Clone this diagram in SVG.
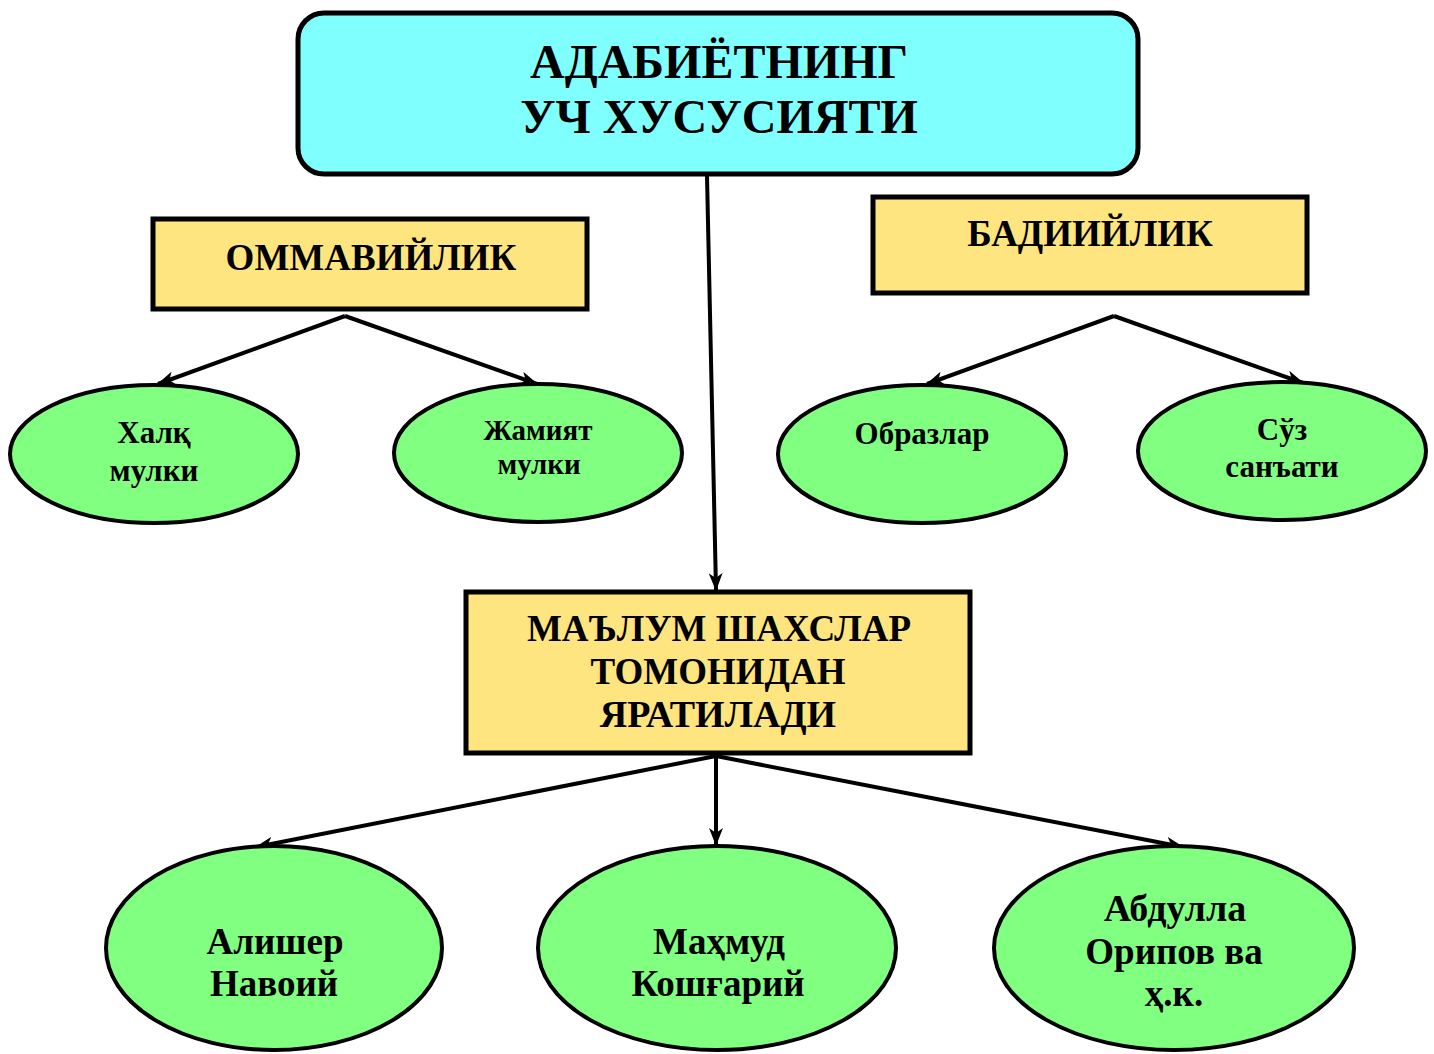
<svg xmlns="http://www.w3.org/2000/svg" width="1434" height="1054" viewBox="0 0 1434 1054">
<defs>
<marker id="ah" markerUnits="userSpaceOnUse" markerWidth="18" markerHeight="14" viewBox="0 0 18 14" refX="17" refY="7" orient="auto">
<path d="M0,0 L18,7 L0,14 L5,7 z" fill="#000"/>
</marker>
<style>
.t{font-family:"Liberation Serif","Times New Roman",serif;font-weight:bold;fill:#000;text-anchor:middle}
.box{fill:#FFE57F;stroke:#000;stroke-width:5}
.ell{fill:#80FF80;stroke:#000;stroke-width:4}
.c{stroke:#000;stroke-width:4;fill:none}
</style>
</defs>
<rect width="1434" height="1054" fill="#fff"/>
<g id="connectors">
<line class="c" x1="707" y1="176" x2="716" y2="590" marker-end="url(#ah)"/>
<line class="c" x1="345" y1="316" x2="158" y2="384" marker-end="url(#ah)"/>
<line class="c" x1="345" y1="316" x2="537" y2="384" marker-end="url(#ah)"/>
<line class="c" x1="1114" y1="316" x2="927" y2="384" marker-end="url(#ah)"/>
<line class="c" x1="1114" y1="316" x2="1303" y2="383" marker-end="url(#ah)"/>
<line class="c" x1="716" y1="756" x2="256" y2="847" marker-end="url(#ah)"/>
<line class="c" x1="716" y1="756" x2="716" y2="845" marker-end="url(#ah)"/>
<line class="c" x1="716" y1="756" x2="1183" y2="847" marker-end="url(#ah)"/>
</g>
<g id="top">
<rect x="298" y="13" width="840" height="161" rx="26" fill="#80FFFF" stroke="#000" stroke-width="5"/>
<text class="t" x="719" y="78" font-size="48">АДАБИЁТНИНГ</text>
<text class="t" x="719" y="133" font-size="48">УЧ ХУСУСИЯТИ</text>
</g>
<g id="ommaviylik">
<rect class="box" x="153" y="219" width="434" height="90"/>
<text class="t" x="371" y="270" font-size="37">ОММАВИЙЛИК</text>
</g>
<g id="badiiylik">
<rect class="box" x="873" y="197" width="434" height="96"/>
<text class="t" x="1090" y="246" font-size="37">БАДИИЙЛИК</text>
</g>
<g id="xalq">
<ellipse class="ell" cx="154" cy="454" rx="144" ry="69"/>
<text class="t" x="154" y="443" font-size="31">Халқ</text>
<text class="t" x="154" y="481" font-size="31">мулки</text>
</g>
<g id="jamiyat">
<ellipse class="ell" cx="538" cy="453" rx="144" ry="69"/>
<text class="t" x="538" y="440" font-size="29">Жамият</text>
<text class="t" x="539" y="474" font-size="29">мулки</text>
</g>
<g id="obrazlar">
<ellipse class="ell" cx="922" cy="454" rx="144" ry="69"/>
<text class="t" x="922" y="444" font-size="31">Образлар</text>
</g>
<g id="soz">
<ellipse class="ell" cx="1282" cy="451" rx="144" ry="69"/>
<text class="t" x="1282" y="440" font-size="31">Сўз</text>
<text class="t" x="1282" y="477" font-size="31">санъати</text>
</g>
<g id="malum">
<rect class="box" x="466" y="592" width="504" height="161"/>
<text class="t" x="719" y="641" font-size="37">МАЪЛУМ ШАХСЛАР</text>
<text class="t" x="718" y="684" font-size="37">ТОМОНИДАН</text>
<text class="t" x="718" y="727" font-size="38">ЯРАТИЛАДИ</text>
</g>
<g id="navoiy">
<ellipse class="ell" cx="274" cy="948" rx="168" ry="102"/>
<text class="t" x="275" y="954" font-size="37">Алишер</text>
<text class="t" x="274" y="996" font-size="37">Навоий</text>
</g>
<g id="koshgariy">
<ellipse class="ell" cx="717" cy="948" rx="179" ry="102"/>
<text class="t" x="719" y="954" font-size="37">Маҳмуд</text>
<text class="t" x="718" y="996" font-size="37">Кошғарий</text>
</g>
<g id="oripov">
<ellipse class="ell" cx="1174" cy="948" rx="180" ry="102"/>
<text class="t" x="1175" y="921" font-size="38">Абдулла</text>
<text class="t" x="1174" y="964" font-size="37">Орипов ва</text>
<text class="t" x="1174" y="1006" font-size="37">ҳ.к.</text>
</g>
</svg>
